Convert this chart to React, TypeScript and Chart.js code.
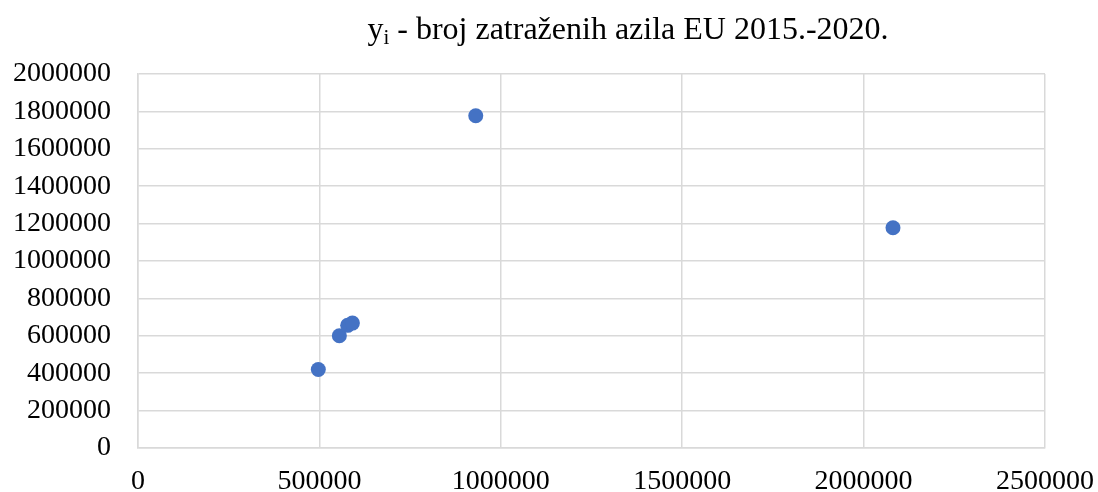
import React, { useEffect, useRef } from "react";
import { Chart, registerables } from "chart.js";

Chart.register(...registerables);

const xValues = [497000, 555000, 578000, 591000, 931000, 2081000];
const yValues = [420000, 600000, 656000, 668000, 1777000, 1178000];
const titleMain = "y";
const titleSub = "i";
const titleRest = " - broj zatraženih azila EU 2015.-2020.";

const FONT = '"Liberation Serif", "Times New Roman", serif';

const titlePlugin = {
  id: "subTitle",
  afterDraw(chart: any) {
    const ctx = chart.ctx;
    ctx.save();
    ctx.fillStyle = "#000";
    ctx.textBaseline = "alphabetic";
    ctx.textAlign = "left";
    const big = `32px ${FONT}`;
    const small = `21px ${FONT}`;
    ctx.font = big;
    const w1 = ctx.measureText(titleMain).width;
    const w3 = ctx.measureText(titleRest).width;
    ctx.font = small;
    const w2 = ctx.measureText(titleSub).width;
    const total = w1 + w2 + w3;
    const cx = 628;
    let x = cx - total / 2;
    const base = 39;
    ctx.font = big;
    ctx.fillText(titleMain, x, base);
    x += w1;
    ctx.font = small;
    ctx.fillText(titleSub, x, base + 5);
    x += w2;
    ctx.font = big;
    ctx.fillText(titleRest, x, base);
    ctx.restore();
  },
};

export default function App() {
  const ref = useRef<HTMLCanvasElement | null>(null);
  useEffect(() => {
    if (!ref.current) return;
    const data = xValues.map((x, i) => ({ x, y: yValues[i] }));
    const chart = new Chart(ref.current, {
      type: "scatter",
      data: {
        datasets: [
          {
            label: "y",
            data,
            backgroundColor: "#4472C4",
            borderColor: "#4472C4",
            pointRadius: 7.5,
            pointHoverRadius: 7.5,
            borderWidth: 0,
          },
        ],
      },
      options: {
        responsive: false,
        animation: false,
        devicePixelRatio: 1,
        layout: { padding: { top: 74, right: 53, left: 0, bottom: 0 } },
        plugins: {
          legend: { display: false },
          title: { display: false },
          tooltip: { enabled: false },
        },
        scales: {
          x: {
            type: "linear",
            min: 0,
            max: 2500000,
            ticks: {
              stepSize: 500000,
              color: "#000",
              font: { family: FONT, size: 28 },
              padding: 17,
              maxRotation: 0,
              callback: (v: any) => String(v),
            },
            grid: { color: "#d9d9d9", lineWidth: 1.5, drawTicks: false },
            border: { color: "#d9d9d9", width: 1.5 },
            afterFit: (s: any) => {
              s.height = 44;
              s.paddingLeft = 0;
              s.paddingRight = 0;
            },
          },
          y: {
            type: "linear",
            min: 0,
            max: 2000000,
            ticks: {
              stepSize: 200000,
              color: "#000",
              font: { family: FONT, size: 28 },
              padding: 27,
              callback: (v: any) => String(v),
            },
            grid: { color: "#d9d9d9", lineWidth: 1.5, drawTicks: false },
            border: { color: "#d9d9d9", width: 1.5 },
            afterFit: (s: any) => {
              s.width = 138;
              s.paddingTop = 0;
              s.paddingBottom = 0;
            },
          },
        },
      },
      plugins: [titlePlugin],
    });
    return () => chart.destroy();
  }, []);
  return (
    <div style={{ position: "fixed", left: 0, top: 0, width: 1098, height: 492, background: "#fff" }}>
      <canvas ref={ref} width={1098} height={492} style={{ display: "block" }} />
    </div>
  );
}
